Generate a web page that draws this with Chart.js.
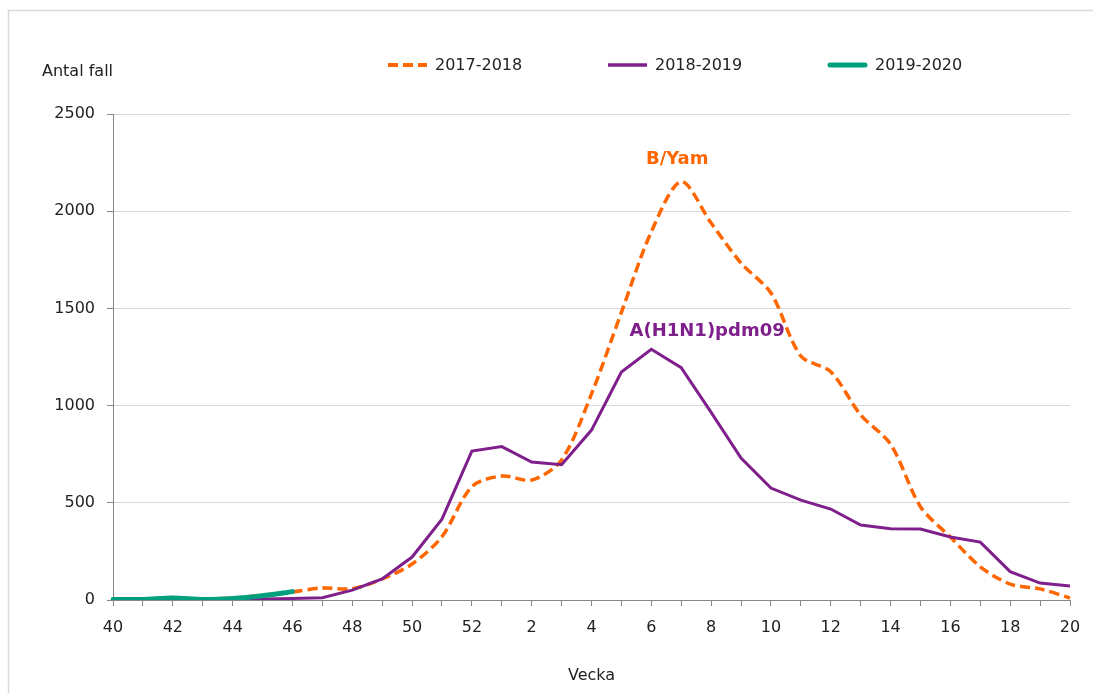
<!DOCTYPE html>
<html>
<head>
<meta charset="utf-8">
<script src="https://cdn.jsdelivr.net/npm/chart.js@4"></script>
<style>
  body { margin: 0; background: #fff; overflow: hidden; }
  #wrap { width: 1093px; height: 693px; }
</style>
</head>
<body>
<div id="wrap"><canvas id="myChart" width="1093" height="693"></canvas></div>
<script>
// week numbers, season 40 -> 20
const weeks = ['40','41','42','43','44','45','46','47','48','49','50','51','52',
  '1','2','3','4','5','6','7','8','9','10','11','12','13','14','15','16','17','18','19','20'];

const season1718 = [5, 5, 8, 5, 10, 25, 41, 62, 58, 108, 185, 326, 583,
  638, 617, 720, 1060, 1480, 1894, 2152, 1939, 1733, 1579, 1255, 1174, 952, 802, 480, 324, 171, 82, 57, 10];
const season1819 = [2, 2, 3, 2, 3, 5, 8, 12, 51, 108, 221, 416, 766,
  789, 710, 696, 874, 1173, 1290, 1195, 965, 730, 576, 514, 468, 386, 367, 365, 324, 298, 146, 87, 72];
const season1920 = [3, 3, 10, 3, 8, 22, 43];

const seasonNames = ['2017-2018', '2018-2019', '2019-2020'];

// labels written over the peaks
const noteTexts = ['B/Yam', 'A(H1N1)pdm09'];
const noteWeeks = ['7', '8'];
const noteValues = [2265, 1380];

const FONT = 'DejaVu Sans';
const ORANGE = '#ff6600';
const PURPLE = '#7f1f8c';
const GREEN = '#00a07f';

const extras = {
  id: 'extras',
  beforeDraw(chart) {
    // frame: only top and left edges show in the original
    const c = chart.ctx;
    c.save();
    c.strokeStyle = '#d9d9d9';
    c.lineWidth = 1.5;
    c.beginPath();
    c.moveTo(8.5, 693);
    c.lineTo(8.5, 10.5);
    c.lineTo(1093, 10.5);
    c.stroke();
    c.restore();
  },
  afterDatasetsDraw(chart) {
    const c = chart.ctx;
    const xs = chart.scales.x, ys = chart.scales.y;
    const colors = [ORANGE, PURPLE];
    c.save();
    c.font = 'bold 18px "' + FONT + '"';
    c.textAlign = 'center';
    c.textBaseline = 'middle';
    for (let i = 0; i < noteTexts.length; i++) {
      c.fillStyle = colors[i];
      c.fillText(noteTexts[i], xs.getPixelForValue(weeks.indexOf(noteWeeks[i])) - 4, ys.getPixelForValue(noteValues[i]));
    }
    c.restore();
  },
  afterDraw(chart) {
    const c = chart.ctx;
    c.save();
    c.fillStyle = '#222';
    c.font = '16px "' + FONT + '"';
    c.textBaseline = 'middle';
    c.textAlign = 'left';
    c.fillText('Antal fall', 42, 72);

    // legend
    const ds = chart.data.datasets;
    for (let i = 0; i < ds.length; i++) {
      const x0 = 388 + i * 220, y0 = 65;
      c.beginPath();
      c.strokeStyle = ds[i].borderColor;
      c.lineWidth = i === 2 ? 5 : (i === 0 ? 4 : 3.5);
      c.lineCap = i === 2 ? 'round' : 'butt';
      c.setLineDash(ds[i].borderDash || []);
      c.moveTo(x0 + (i === 2 ? 2 : 0), y0);
      c.lineTo(x0 + 39 - (i === 2 ? 2 : 0), y0);
      c.stroke();
      c.setLineDash([]);
      c.fillStyle = '#222';
      c.fillText(ds[i].label, x0 + 47, y0 + 1);
    }
    c.restore();
  }
};

const ctx = document.getElementById('myChart').getContext('2d');

const myChart = new Chart(ctx, {
  type: 'line',
  data: {
    labels: weeks,
    datasets: [{
      label: seasonNames[0],
      data: season1718,
      borderColor: ORANGE,
      borderWidth: 3.5,
      borderDash: [10, 5],
      tension: 0.3,
      pointRadius: 0,
      order: 2
    }, {
      label: seasonNames[1],
      data: season1819,
      borderColor: PURPLE,
      borderWidth: 3,
      tension: 0,
      pointRadius: 0,
      order: 1
    }, {
      label: seasonNames[2],
      data: season1920,
      borderColor: GREEN,
      borderWidth: 5,
      borderCapStyle: 'round',
      tension: 0.3,
      pointRadius: 0,
      order: 0
    }]
  },
  options: {
    responsive: false,
    animation: false,
    layout: { padding: { left: 0, right: 23, top: 114, bottom: 0 } },
    plugins: {
      legend: { display: false },
      tooltip: { enabled: false }
    },
    scales: {
      x: {
        afterFit: (s) => { s.height = 93; },
        grid: { drawOnChartArea: false, tickLength: 6, tickColor: '#868686' },
        border: { color: '#868686', width: 1 },
        ticks: {
          autoSkip: false,
          maxRotation: 0,
          padding: 12,
          color: '#222',
          font: { family: FONT, size: 16 },
          callback: (v, i) => i % 2 === 0 ? weeks[i] : ''
        },
        title: {
          display: true,
          text: 'Vecka',
          color: '#222',
          font: { family: FONT, size: 16 },
          padding: { top: 0, bottom: 8 }
        }
      },
      y: {
        min: 0,
        max: 2500,
        afterFit: (s) => { s.width = 113; },
        grid: { color: '#d9d9d9', tickLength: 6, tickColor: '#868686' },
        border: { color: '#868686', width: 1 },
        ticks: {
          stepSize: 500,
          padding: 12,
          color: '#222',
          font: { family: FONT, size: 16 },
          callback: (v) => String(v)
        }
      }
    }
  },
  plugins: [extras]
});
</script>
</body>
</html>
